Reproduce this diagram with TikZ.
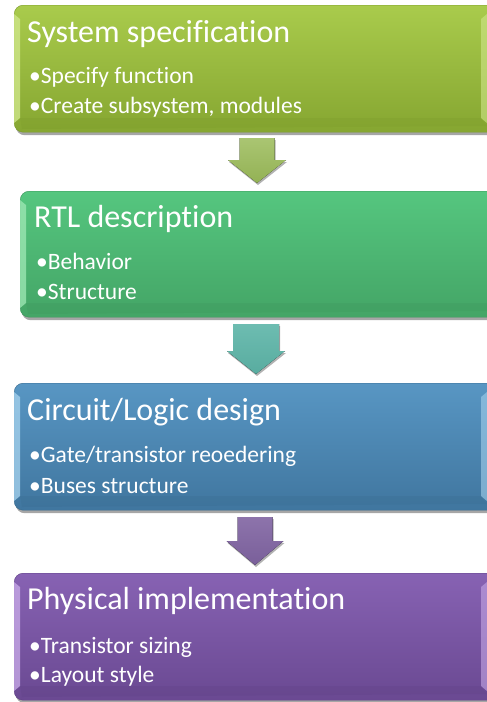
\documentclass[tikz,border=0pt]{standalone}
\usepackage{fontspec}
\setmainfont[Ligatures=NoCommon]{Carlito}
\usetikzlibrary{shadows}
\definecolor{gAt}{HTML}{A9CB4C}\definecolor{gAb}{HTML}{86A631}\definecolor{gAl}{HTML}{CFE68A}\definecolor{gAd}{HTML}{7A9A2A}
\definecolor{gBt}{HTML}{55C67F}\definecolor{gBb}{HTML}{44A566}\definecolor{gBl}{HTML}{9BE6B2}\definecolor{gBd}{HTML}{3B945A}
\definecolor{gCt}{HTML}{5896C3}\definecolor{gCb}{HTML}{40769F}\definecolor{gCl}{HTML}{A3D0EC}\definecolor{gCd}{HTML}{386A8E}
\definecolor{gDt}{HTML}{8762B3}\definecolor{gDb}{HTML}{6A4992}\definecolor{gDl}{HTML}{C6A8E6}\definecolor{gDd}{HTML}{5E4084}
\definecolor{arA}{HTML}{9BBB59}\definecolor{arB}{HTML}{5DB5A8}\definecolor{arC}{HTML}{8064A2}
\tikzset{
  stagebox/.style={rounded corners=9pt, minimum width=490pt, minimum height=127pt, anchor=north west, inner sep=0pt,
    drop shadow={shadow xshift=1.5pt, shadow yshift=-3pt, opacity=0.35, fill=black}},
  stagetitle/.style={anchor=base west, inner sep=0pt, text=white, font=\fontsize{32}{34}\selectfont},
  stageitem/.style={anchor=base west, inner sep=0pt, text=white, font=\fontsize{23.5}{26}\selectfont},
  flowarrow/.style={drop shadow={shadow xshift=1pt, shadow yshift=-2pt, opacity=0.3, fill=black}}
}
\newcommand\stagebevel[4]{% #1 top y, #2 bottom y, #3 light color, #4 dark color
  \fill[#3, opacity=0.8] (14,#1+9) -- (20,#1+14) -- (20,#2-14) -- (14,#2-9) -- cycle;
  \fill[#3, opacity=0.6] (487,#1+9) -- (481,#1+14) -- (481,#2-14) -- (487,#2-9) -- cycle;
  \fill[#4, opacity=0.25] (20,#2-14) -- (481,#2-14) -- (487,#2-6) -- (22,#2-3) -- cycle;
}
\begin{document}
\begin{tikzpicture}[x=1pt,y=-1pt]
\useasboundingbox (0,0) rectangle (487,702);
\clip (0,0) rectangle (487,702);
\fill[white] (0,0) rectangle (487,702);
% boxes
\node[stagebox, top color=gAt, bottom color=gAb, draw=gAd] (s1) at (14,5) {};
\stagebevel{5}{132}{gAl}{gAd}
\node[stagebox, top color=gBt, bottom color=gBb, draw=gBd, minimum height=126pt] (s2) at (20,191) {};
\begin{scope}[xshift=6pt]\stagebevel{191}{317}{gBl}{gBd}\end{scope}
\node[stagebox, top color=gCt, bottom color=gCb, draw=gCd] (s3) at (14,383) {};
\stagebevel{383}{510}{gCl}{gCd}
\node[stagebox, top color=gDt, bottom color=gDb, draw=gDd] (s4) at (14,573) {};
\stagebevel{573}{700}{gDl}{gDd}
% texts
\node[stagetitle] (t1) at (27,42) {System specification};
\node[stageitem] (i11) at (29,83) {•Specify function};
\node[stageitem] (i12) at (29,113) {•Create subsystem, modules};
\node[stagetitle] (t2) at (34,227) {RTL description};
\node[stageitem] (i21) at (36,269) {•Behavior};
\node[stageitem] (i22) at (36,299) {•Structure};
\node[stagetitle] (t3) at (27,420) {Circuit/Logic design};
\node[stageitem] (i31) at (29,462) {•Gate/transistor reoedering};
\node[stageitem] (i32) at (29,493) {•Buses structure};
\node[stagetitle] (t4) at (27,609) {Physical implementation};
\node[stageitem] (i41) at (29,653) {•Transistor sizing};
\node[stageitem] (i42) at (29,682) {•Layout style};
% arrows
\coordinate (a1) at (257,138);
\fill[flowarrow, top color=arA!85!white, bottom color=arA!95!black] (a1) ++(-17.5,0) -- ++(35,0) -- ++(0,22) -- ++(11.5,0) -- ++(-29,23) -- ++(-29,-23) -- ++(11.5,0) -- cycle;
\coordinate (a2) at (256,324);
\fill[flowarrow, top color=arB!90!white, bottom color=arB!95!black] (a2) ++(-23,0) -- ++(46,0) -- ++(0,27) -- ++(6,0) -- ++(-29,23) -- ++(-29,-23) -- ++(6,0) -- cycle;
\coordinate (a3) at (255,517);
\fill[flowarrow, top color=arC!90!white, bottom color=arC!95!black] (a3) ++(-17.5,0) -- ++(35,0) -- ++(0,24) -- ++(11,0) -- ++(-28.5,24) -- ++(-28.5,-24) -- ++(11,0) -- cycle;
\end{tikzpicture}
\end{document}
